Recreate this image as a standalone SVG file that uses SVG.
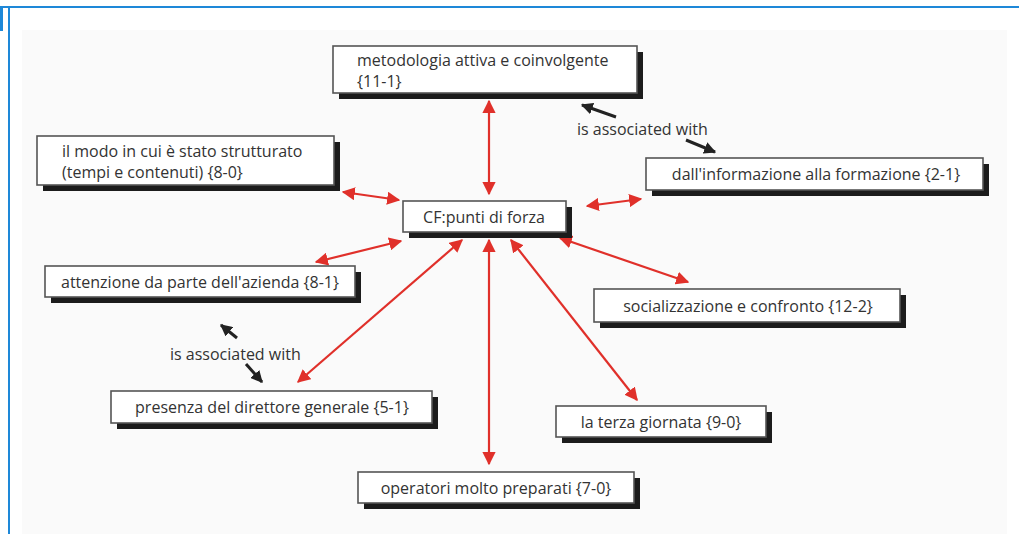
<svg xmlns="http://www.w3.org/2000/svg" width="1019" height="534" viewBox="0 0 1019 534">
  <style>
    .frame { stroke: #1e88d8; fill: none; }
    .box { fill: #ffffff; stroke: #555555; stroke-width: 1.6; }
    .shadow { fill: #1c1c1c; }
    .label { font-family: "Open Sans", "Noto Sans", "Liberation Sans", sans-serif; font-size: 16px; fill: #333333; }
    .link { stroke: #e0302a; stroke-width: 2.2; fill: none; marker-start: url(#redHead); marker-end: url(#redHead); }
    .assoc { stroke: #222222; stroke-width: 3; fill: none; marker-end: url(#blackHead); }
  </style>
  <defs>
    <marker id="redHead" viewBox="0 0 10 10" refX="9" refY="5" markerWidth="6" markerHeight="6" orient="auto-start-reverse" markerUnits="strokeWidth">
      <path d="M0,0 L10,5 L0,10 Z" fill="#e0302a"/>
    </marker>
    <marker id="blackHead" viewBox="0 0 10 10" refX="9" refY="5" markerWidth="4" markerHeight="4" orient="auto" markerUnits="strokeWidth">
      <path d="M0,0 L10,5 L0,10 Z" fill="#222222"/>
    </marker>
  </defs>

  <!-- page background and frame -->
  <rect x="0" y="0" width="1019" height="534" fill="#ffffff"/>
  <rect x="22" y="30" width="985" height="504" fill="#fafafa"/>
  <line class="frame" x1="0" y1="7" x2="1019" y2="7" stroke-width="2"/>
  <line class="frame" x1="9" y1="7" x2="9" y2="534" stroke-width="2"/>
  <rect x="0" y="7" width="3" height="24" fill="#1e88d8"/>

  <!-- connectors -->
  <g id="connectors">
    <line class="link" x1="489" y1="101" x2="489" y2="194"/>
    <line class="link" x1="343" y1="192" x2="399" y2="200"/>
    <line class="link" x1="316" y1="262" x2="401" y2="241"/>
    <line class="link" x1="587" y1="206" x2="641" y2="199"/>
    <line class="link" x1="462" y1="240" x2="298" y2="382"/>
    <line class="link" x1="489" y1="240" x2="489" y2="464"/>
    <line class="link" x1="511" y1="240" x2="637" y2="400"/>
    <line class="link" x1="560" y1="238" x2="688" y2="282"/>

    <line class="assoc" x1="616" y1="117" x2="582" y2="105"/>
    <line class="assoc" x1="686" y1="140" x2="715" y2="152"/>
    <text class="label" x="577" y="135">is associated with</text>

    <line class="assoc" x1="237" y1="338" x2="221" y2="325"/>
    <line class="assoc" x1="246" y1="364" x2="262" y2="382"/>
    <text class="label" x="170" y="360">is associated with</text>
  </g>

  <!-- nodes -->
  <g id="node-metodologia">
    <rect class="shadow" x="339" y="52" width="304" height="47"/>
    <rect class="box" x="333" y="46" width="304" height="47"/>
    <text class="label" x="357" y="66">metodologia attiva e coinvolgente</text>
    <text class="label" x="357" y="87">{11-1}</text>
  </g>

  <g id="node-modo">
    <rect class="shadow" x="43" y="142" width="297" height="49"/>
    <rect class="box" x="37" y="136" width="297" height="49"/>
    <text class="label" x="62" y="157">il modo in cui è stato strutturato</text>
    <text class="label" x="62" y="178">(tempi e contenuti) {8-0}</text>
  </g>

  <g id="node-informazione">
    <rect class="shadow" x="652" y="164" width="337" height="32"/>
    <rect class="box" x="646" y="158" width="337" height="32"/>
    <text class="label" x="816" y="180" text-anchor="middle">dall'informazione alla formazione {2-1}</text>
  </g>

  <g id="node-cf">
    <rect class="shadow" x="409" y="207" width="163" height="31"/>
    <rect class="box" x="403" y="201" width="163" height="31"/>
    <text class="label" x="484" y="223" text-anchor="middle">CF:punti di forza</text>
  </g>

  <g id="node-attenzione">
    <rect class="shadow" x="51" y="272" width="310" height="31"/>
    <rect class="box" x="45" y="266" width="310" height="31"/>
    <text class="label" x="200" y="288" text-anchor="middle">attenzione da parte dell'azienda {8-1}</text>
  </g>

  <g id="node-socializzazione">
    <rect class="shadow" x="600" y="295" width="306" height="33"/>
    <rect class="box" x="594" y="289" width="306" height="33"/>
    <text class="label" x="748" y="312" text-anchor="middle">socializzazione e confronto {12-2}</text>
  </g>

  <g id="node-direttore">
    <rect class="shadow" x="117" y="397" width="321" height="32"/>
    <rect class="box" x="111" y="391" width="321" height="32"/>
    <text class="label" x="272" y="413" text-anchor="middle">presenza del direttore generale {5-1}</text>
  </g>

  <g id="node-terza">
    <rect class="shadow" x="562" y="412" width="210" height="31"/>
    <rect class="box" x="556" y="406" width="210" height="31"/>
    <text class="label" x="661" y="428" text-anchor="middle">la terza giornata {9-0}</text>
  </g>

  <g id="node-operatori">
    <rect class="shadow" x="364" y="478" width="276" height="31"/>
    <rect class="box" x="358" y="472" width="276" height="31"/>
    <text class="label" x="496" y="494" text-anchor="middle">operatori molto preparati {7-0}</text>
  </g>
</svg>
